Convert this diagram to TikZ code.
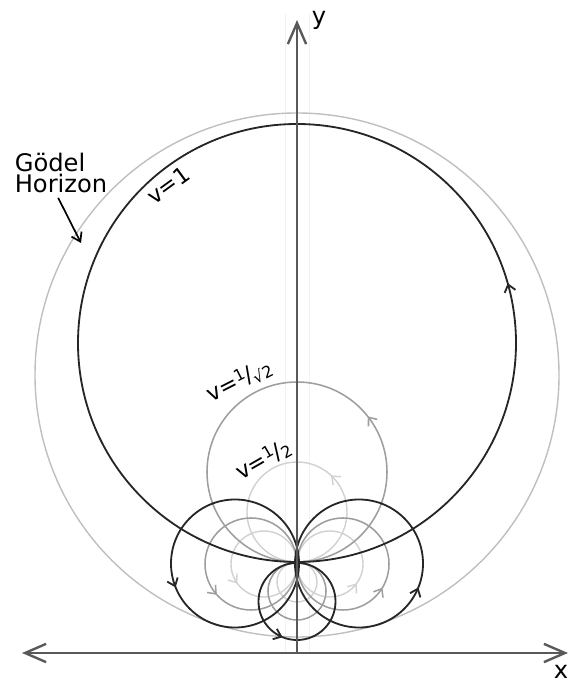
\documentclass[tikz,border=0pt]{standalone}
\usepackage{fontspec}
\setmainfont{DejaVu Sans}
\usetikzlibrary{arrows.meta,decorations.markings}
\tikzset{
  axis/.style={line width=1.7pt, draw=black!65},
  orbit/.style={line width=1.3pt, draw=black!85},
  orbitgray/.style={line width=1.1pt, draw=black!38},
  orbitlight/.style={line width=1.0pt, draw=black!18},
  flow/.style={postaction={decorate, decoration={markings,
    mark=at position #1 with {\arrow{Straight Barb[length=5pt,width=8pt]}}}}},
  bigtip/.tip={Straight Barb[length=15pt,width=13pt]},
}
\newcommand{\labfont}{\fontsize{17.2}{15}\selectfont}
\newcommand{\vfont}{\fontsize{16}{16}\selectfont}
\newcommand{\fracpart}[1]{{\fontsize{11.5}{11.5}\selectfont #1}}
\begin{document}
\begin{tikzpicture}[x=0.25cm, y=0.25cm]
\useasboundingbox (0,0) rectangle (57,68.4);
% faint guide lines
\draw[black!5, line width=0.6pt] (28.5,3.1) -- (28.5,67);
\draw[black!5, line width=0.6pt] (30.9,3.1) -- (30.9,67);
% Goedel horizon
\draw[line width=1pt, draw=black!25] (29.7,30.9) circle (26.2);
% v=1/2 family
\draw[orbitlight, flow=0.381] (29.7,12.2) arc[start angle=-90, end angle=270, radius=5.0];
\draw[orbitlight, flow=0.6] (29.7,12.0) arc[start angle=0, end angle=360, radius=3.3];
\draw[orbitlight, flow=0.4] (29.7,12.0) arc[start angle=180, end angle=540, radius=3.3];
\draw[orbitlight] (29.7,12.2) arc[start angle=90, end angle=450, radius=2.0];
% v=1/sqrt2 family
\draw[orbitgray, flow=0.356] (29.7,12.2) arc[start angle=-90, end angle=270, radius=9.0];
\draw[orbitgray, flow=0.617] (29.7,12.0) arc[start angle=0, end angle=360, radius=4.6];
\draw[orbitgray, flow=0.414] (29.7,12.0) arc[start angle=180, end angle=540, radius=4.6];
\draw[orbitgray] (29.7,12.2) arc[start angle=90, end angle=450, radius=2.9];
% v=1 family
\draw[orbit, flow=0.294] (29.7,12.2) arc[start angle=-90, end angle=270, radius=21.9];
\draw[orbit, flow=0.561] (29.9,12.05) arc[start angle=0, end angle=360, radius=6.4];
\draw[orbit, flow=0.439] (29.5,12.05) arc[start angle=180, end angle=540, radius=6.4];
\draw[orbit, flow=0.439] (29.7,12.1) arc[start angle=90, end angle=450, radius=3.85];
% axes
\coordinate (xl) at (2.2,3.1);
\coordinate (xr) at (56.8,3.1);
\coordinate (o) at (29.7,3.1);
\coordinate (yt) at (29.7,66.4);
\draw[axis, bigtip-bigtip] (xl) -- (xr);
\draw[axis, -bigtip] (o) -- (yt);
\node[font=\labfont] (ylab) at (31.9,66.4) {y};
\node[font=\labfont] (xlab) at (56.1,1.2) {x};
% labels
\node[font=\labfont, align=left] (horizon) at (6.1,51.1) {Gödel\\Horizon};
\coordinate (hz) at (8.1,44.1);
\draw[line width=1.2pt, -{Straight Barb[length=6pt,width=8pt]}] ([xshift=-2pt]horizon.south) -- (hz);
\node[font=\vfont, rotate=36] (v1) at (16.8,49.9) {v=1};
\node[font=\vfont, rotate=27] (vr2) at (23.9,30.3) {v=\raisebox{0.5ex}{\fracpart{1}}\kern-0.5pt/\kern-0.5pt\raisebox{-0.3ex}{\fracpart{√2}}};
\node[font=\vfont, rotate=30] (vh) at (26.3,22.4) {v=\raisebox{0.5ex}{\fracpart{1}}\kern-0.5pt/\kern-0.5pt\raisebox{-0.3ex}{\fracpart{2}}};
\end{tikzpicture}
\end{document}
